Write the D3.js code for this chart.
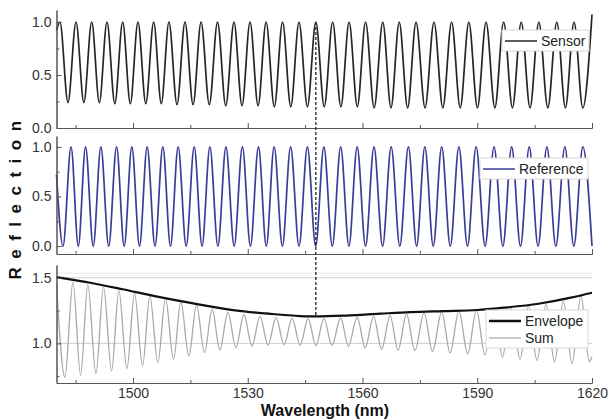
<!DOCTYPE html>
<html>
<head>
<meta charset="utf-8">
<script src="https://cdn.jsdelivr.net/npm/d3@7"></script>
<style>
  body { margin: 0; background: #fff; }
  svg { display: block; }
  text { font-family: "Liberation Sans", Arial, sans-serif; }
</style>
</head>
<body>
<div id="chart"></div>
<script>
// --- data (wavelength in nm, reflection) ---

// sensor: peaks all at 1.0, dips listed with their own depth
const sensorPeaks = [1480.9, 1485.1, 1489.2, 1493.2, 1497.3, 1501.3, 1505.4, 1509.4, 1513.6, 1517.8,
  1522.1, 1526.4, 1530.6, 1534.8, 1539.1, 1543.4, 1547.8, 1552.2, 1556.5, 1560.8, 1565.3, 1569.6,
  1574.0, 1578.7, 1583.3, 1587.8, 1592.3, 1596.9, 1601.5, 1606.1, 1610.8, 1615.3];
const sensorDips = [1483.0, 1487.15, 1491.2, 1495.25, 1499.3, 1503.35, 1507.4, 1511.5, 1515.7, 1519.95,
  1524.25, 1528.5, 1532.7, 1536.95, 1541.25, 1545.6, 1550.0, 1554.35, 1558.65, 1563.05, 1567.45, 1571.8,
  1576.35, 1581.0, 1585.55, 1590.05, 1594.6, 1599.2, 1603.8, 1608.45, 1613.05, 1617.6];
const sensorDipR = [0.24, 0.24, 0.24, 0.23, 0.23, 0.23, 0.23, 0.22, 0.22, 0.22, 0.21, 0.21, 0.21, 0.2, 0.2, 0.2,
  0.2, 0.2, 0.2, 0.19, 0.19, 0.19, 0.19, 0.19, 0.19, 0.19, 0.19, 0.19, 0.19, 0.19, 0.19, 0.19];
const sensorEnds = [[1480, 0.92], [1620, 1.07]];

// reference: peaks at 1.0, dips at 0.0
const refPeaks = [1483.8, 1487.6, 1491.6, 1495.7, 1499.7, 1503.7, 1507.8, 1511.8, 1516.0, 1520.1,
  1524.3, 1528.6, 1532.8, 1536.9, 1541.2, 1545.6, 1549.9, 1554.3, 1558.6, 1563.0, 1567.5, 1572.0,
  1576.3, 1580.7, 1585.2, 1589.7, 1594.4, 1599.0, 1603.6, 1608.2, 1612.9, 1617.6];
const refDips = [1481.7, 1485.7, 1489.6, 1493.65, 1497.7, 1501.7, 1505.75, 1509.8, 1513.9, 1518.05,
  1522.2, 1526.45, 1530.7, 1534.85, 1539.05, 1543.4, 1547.75, 1552.1, 1556.45, 1560.8, 1565.25, 1569.75,
  1574.15, 1578.5, 1582.95, 1587.45, 1592.05, 1596.7, 1601.3, 1605.9, 1610.55, 1615.25, 1620.0];
const refStart = [1480, 0.72];

// sum: peaks and dips, each with its value
const sumPeaks = [[1484.3, 1.467], [1488.2, 1.447], [1492.3, 1.429], [1496.3, 1.404], [1500.4, 1.38],
  [1504.4, 1.362], [1508.5, 1.342], [1512.5, 1.318], [1516.6, 1.292], [1520.7, 1.262], [1524.8, 1.236],
  [1529.0, 1.218], [1533.2, 1.205], [1537.4, 1.196], [1541.6, 1.19], [1545.8, 1.188], [1549.9, 1.19],
  [1554.3, 1.195], [1558.6, 1.2], [1562.9, 1.205], [1567.2, 1.212], [1571.5, 1.222], [1576.1, 1.232],
  [1580.7, 1.24], [1585.2, 1.248], [1589.8, 1.255], [1594.4, 1.265], [1598.8, 1.275], [1603.4, 1.285],
  [1608.0, 1.295], [1612.5, 1.32], [1617.1, 1.36]];
const sumDips = [[1482.2, 0.743], [1486.3, 0.756], [1490.3, 0.769], [1494.4, 0.79], [1498.4, 0.807],
  [1502.5, 0.83], [1506.5, 0.855], [1510.6, 0.878], [1514.6, 0.903], [1518.7, 0.93], [1522.7, 0.95],
  [1526.9, 0.968], [1531.1, 0.98], [1535.3, 0.988], [1539.5, 0.99], [1543.7, 0.986], [1547.8, 0.982],
  [1552.0, 0.984], [1556.3, 0.978], [1560.7, 0.966], [1565.0, 0.955], [1569.3, 0.947], [1573.7, 0.945],
  [1578.3, 0.938], [1582.9, 0.928], [1587.5, 0.92], [1592.0, 0.912], [1596.6, 0.896], [1601.2, 0.88],
  [1605.6, 0.87], [1610.2, 0.858], [1614.8, 0.845], [1619.3, 0.86]];
const sumEnds = [[1480, 1.45], [1620, 0.9]];

// envelope of the sum
const envelope = [[1480, 1.505], [1488.8, 1.462], [1497.3, 1.412], [1506.0, 1.358], [1514.7, 1.31],
  [1526.7, 1.252], [1535.5, 1.226], [1543.8, 1.208], [1547.8, 1.205], [1555.9, 1.212], [1564.6, 1.226],
  [1572.5, 1.238], [1581.0, 1.246], [1590.0, 1.254], [1597.0, 1.272], [1606.0, 1.302], [1614.5, 1.348],
  [1620, 1.386]];

const markerWl = 1547.8;
const xMajor = [1500, 1530, 1560, 1590, 1620];
const xMinor = [1485, 1515, 1545, 1575, 1605];

// --- build point lists ---
const byWl = (a, b) => a[0] - b[0];
const sensorPts = sensorPeaks.map(w => [w, 1.0])
  .concat(sensorDips.map((w, i) => [w, sensorDipR[i]]), sensorEnds).sort(byWl);
const refPts = refPeaks.map(w => [w, 1.0])
  .concat(refDips.map(w => [w, 0.0]), [refStart]).sort(byWl);
const sumPts = sumPeaks.concat(sumDips, sumEnds).sort(byWl);

// --- layout ---
const width = 609, height = 420;
const svg = d3.select("#chart").append("svg")
  .attr("width", width).attr("height", height);

const x = d3.scaleLinear().domain([1480, 1620]).range([56.5, 592]);

const panels = [
  { name: "sensor", y: d3.scaleLinear().domain([0, 1.113]).range([128, 10]), ticks: [0, 0.5, 1], minor: [0.25, 0.75] },
  { name: "reference", y: d3.scaleLinear().domain([-0.08, 1.11]).range([254, 136]), ticks: [0, 0.5, 1], minor: [0.25, 0.75] },
  { name: "sum", y: d3.scaleLinear().domain([0.698, 1.597]).range([383, 265]), ticks: [1, 1.5], minor: [0.75, 1.25] }
];
const [pTop, pMid, pBot] = panels;

// light grid lines in the lower panel
[1.0, 1.5].forEach(v => {
  svg.append("line")
    .attr("x1", x(1480)).attr("x2", x(1620))
    .attr("y1", pBot.y(v)).attr("y2", pBot.y(v))
    .attr("stroke", "#cfcfcf").attr("stroke-width", 1);
});
svg.append("line")
  .attr("x1", x(1480)).attr("x2", x(1620))
  .attr("y1", pBot.y(1.535)).attr("y2", pBot.y(1.535))
  .attr("stroke", "#e6e6e6").attr("stroke-width", 1);

// curves
function curveLine(p) {
  return d3.line().x(d => x(d[0])).y(d => p.y(d[1])).curve(d3.curveMonotoneX);
}
svg.append("path").datum(sensorPts)
  .attr("d", curveLine(pTop)).attr("fill", "none")
  .attr("stroke", "#262626").attr("stroke-width", 1.7);
svg.append("path").datum(refPts)
  .attr("d", curveLine(pMid)).attr("fill", "none")
  .attr("stroke", "#3a3d96").attr("stroke-width", 1.7);
svg.append("path").datum(sumPts)
  .attr("d", curveLine(pBot)).attr("fill", "none")
  .attr("stroke", "#a8a8a8").attr("stroke-width", 1.3);
svg.append("path").datum(envelope)
  .attr("d", curveLine(pBot)).attr("fill", "none")
  .attr("stroke", "#111").attr("stroke-width", 2.2);

// axes
panels.forEach((p, i) => {
  const isLast = i === panels.length - 1;
  const yb = p.y.range()[0];

  svg.append("g").attr("transform", `translate(0,${yb})`)
    .call(d3.axisBottom(x).tickValues(xMinor).tickSizeInner(-3).tickSizeOuter(0).tickFormat(""));
  svg.append("g").attr("transform", `translate(0,${yb})`)
    .call(d3.axisBottom(x).tickValues(xMajor).tickSizeInner(-5).tickSizeOuter(0)
      .tickPadding(5).tickFormat(isLast ? d3.format("d") : ""));

  svg.append("g").attr("transform", `translate(${x(1480)},0)`)
    .call(d3.axisLeft(p.y).tickValues(p.minor).tickSizeInner(-3).tickSizeOuter(0).tickFormat(""));
  svg.append("g").attr("transform", `translate(${x(1480)},0)`)
    .call(d3.axisLeft(p.y).tickValues(p.ticks).tickSizeInner(-5).tickSizeOuter(0)
      .tickPadding(5).tickFormat(d3.format(".1f")));
});
svg.selectAll(".domain").attr("stroke", "#555");
svg.selectAll(".tick line").attr("stroke", "#555");
svg.selectAll(".tick text").attr("font-size", 14).attr("fill", "#333")
  .attr("font-family", "'Liberation Sans', Arial, sans-serif");

// dashed marker line
svg.append("line")
  .attr("x1", x(markerWl)).attr("x2", x(markerWl))
  .attr("y1", pTop.y(1.0)).attr("y2", pBot.y(1.205))
  .attr("stroke", "#222").attr("stroke-width", 1.3)
  .attr("stroke-dasharray", "3,2");

// legends
function legend(x0, y0, w, items) {
  const g = svg.append("g").attr("transform", `translate(${x0},${y0})`);
  g.append("rect").attr("width", w).attr("height", items.length * 17 + 4)
    .attr("fill", "#fff").attr("stroke", "#d8d8d8");
  items.forEach((it, k) => {
    const yy = 11 + k * 17;
    g.append("line").attr("x1", 3).attr("x2", 35).attr("y1", yy).attr("y2", yy)
      .attr("stroke", it.color).attr("stroke-width", it.width);
    g.append("text").attr("x", 39).attr("y", yy + 5)
      .attr("font-size", 14).attr("fill", "#222").text(it.label);
  });
}
legend(502, 30, 87, [{ label: "Sensor", color: "#262626", width: 1.5 }]);
legend(480, 158, 108, [{ label: "Reference", color: "#3a3d96", width: 1.5 }]);
legend(486, 310, 102, [
  { label: "Envelope", color: "#111", width: 2.5 },
  { label: "Sum", color: "#a8a8a8", width: 1.2 }
]);

// axis titles
svg.append("text")
  .attr("x", 325).attr("y", 416)
  .attr("text-anchor", "middle")
  .attr("font-size", 16).attr("font-weight", "bold").attr("fill", "#111")
  .text("Wavelength (nm)");

svg.append("text")
  .attr("transform", "translate(21,196) rotate(-90)")
  .attr("text-anchor", "middle")
  .attr("font-size", 17).attr("font-weight", "bold").attr("fill", "#111")
  .attr("letter-spacing", 8.5)
  .text("Reflection");
</script>
</body>
</html>
